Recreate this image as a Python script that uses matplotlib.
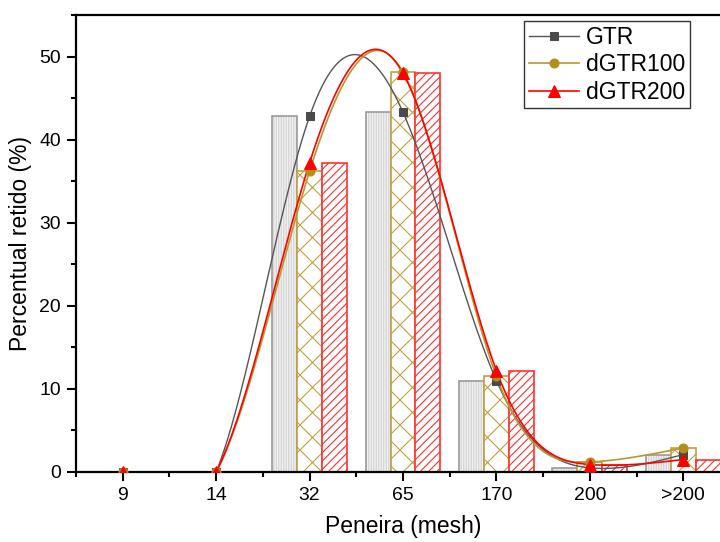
import numpy as np
import matplotlib
matplotlib.use("Agg")
import matplotlib.pyplot as plt
from matplotlib.ticker import MultipleLocator, FixedLocator

DPI = 75
S = 100 / DPI  # sizes below are chosen as if at 100 dpi

plt.rcParams['font.family'] = ['Liberation Sans', 'DejaVu Sans']
plt.rcParams['hatch.linewidth'] = 0.8 * S

categories = ['9', '14', '32', '65', '170', '200', '>200']
gtr = [0.0, 0.0, 42.8, 43.3, 11.0, 0.5, 2.1]
dgtr100 = [0.0, 0.0, 36.2, 48.1, 11.5, 1.2, 2.9]
dgtr200 = [0.0, 0.0, 37.2, 48.0, 12.2, 0.9, 1.5]

series_names = ['GTR', 'dGTR100', 'dGTR200']


def natural_spline(x, y, xs):
    x = np.asarray(x, float)
    y = np.asarray(y, float)
    n = len(x)
    h = np.diff(x)
    A = np.zeros((n, n))
    b = np.zeros(n)
    A[0, 0] = 1
    A[-1, -1] = 1
    for i in range(1, n - 1):
        A[i, i - 1] = h[i - 1]
        A[i, i] = 2 * (h[i - 1] + h[i])
        A[i, i + 1] = h[i]
        b[i] = 6 * ((y[i + 1] - y[i]) / h[i] - (y[i] - y[i - 1]) / h[i - 1])
    M = np.linalg.solve(A, b)
    out = np.empty_like(xs)
    for k, xv in enumerate(xs):
        i = min(max(np.searchsorted(x, xv) - 1, 0), n - 2)
        t1 = x[i + 1] - xv
        t0 = xv - x[i]
        out[k] = (M[i] * t1 ** 3 / (6 * h[i]) + M[i + 1] * t0 ** 3 / (6 * h[i])
                  + (y[i] / h[i] - M[i] * h[i] / 6) * t1
                  + (y[i + 1] / h[i] - M[i + 1] * h[i] / 6) * t0)
    return out


fig = plt.figure(figsize=(720 / DPI, 542 / DPI), dpi=DPI)
ax = fig.add_axes([76 / 720, 70 / 542, 654 / 720, 457 / 542])

x = np.arange(len(categories))
w = 0.267

# GTR bars: light fill with fine vertical hatch, darker outline
ax.bar(x - w, gtr, w, facecolor='#f3f3f3', edgecolor='#d0d0d0', hatch='|||||',
       linewidth=0, zorder=2)
ax.bar(x - w, gtr, w, facecolor='none', edgecolor='#9a9a9a', linewidth=1.2 * S, zorder=2)
# dGTR100 bars: gold crosshatch
ax.bar(x, dgtr100, w, facecolor='white', edgecolor='#c0a040', hatch='x',
       linewidth=1.2 * S, zorder=2)
# dGTR200 bars: red diagonal hatch
ax.bar(x + w, dgtr200, w, facecolor='white', edgecolor='#ff3030', hatch='///',
       linewidth=1.2 * S, zorder=2)

xs = np.linspace(0, len(categories) - 1, 600)
line_styles = [
    (gtr, '#555555', '#4a4a4a', 's', 6.0, 1.0),
    (dgtr100, '#b8982e', '#b38f1a', 'o', 6.5, 1.2),
    (dgtr200, '#ff0000', '#ff0000', '^', 8.0, 1.2),
]
for (vals, lc, mc, mk, ms, lw), name in zip(line_styles, series_names):
    ax.plot(xs, natural_spline(x, vals, xs), color=lc, lw=lw * S, zorder=3)
for (vals, lc, mc, mk, ms, lw), name in zip(line_styles, series_names):
    ax.plot(x, vals, linestyle='none', marker=mk, color=mc, markersize=ms * S, zorder=4)

handles = []
for (vals, lc, mc, mk, ms, lw), name in zip(line_styles, series_names):
    h, = ax.plot([], [], color=lc, lw=lw * S, marker=mk, markerfacecolor=mc,
                 markeredgecolor=mc, markersize=ms * S, label=name)
    handles.append(h)
leg = ax.legend(handles=handles, loc='upper right', bbox_to_anchor=(0.939, 0.987),
                borderaxespad=0, fontsize=16.5 * S, frameon=True, fancybox=False,
                edgecolor='black', handlelength=2.2, handletextpad=0.3,
                labelspacing=0.2, borderpad=0.2)
leg.get_frame().set_linewidth(1.0 * S)

ax.set_xlim(-0.5, len(categories) - 0.5)
ax.set_ylim(0, 55)
ax.set_xticks(x)
ax.set_xticklabels(categories)
ax.xaxis.set_minor_locator(FixedLocator(np.arange(-0.5, len(categories), 1.0)))
ax.yaxis.set_major_locator(MultipleLocator(10))
ax.yaxis.set_minor_locator(MultipleLocator(5))
ax.tick_params(axis='both', which='major', direction='out', length=6.5 * S, width=1.5 * S,
               labelsize=14 * S, pad=4.5 * S)
ax.tick_params(axis='both', which='minor', direction='out', length=3.5 * S, width=1.5 * S)
for s in ['left', 'bottom', 'top']:
    ax.spines[s].set_linewidth(1.6 * S)
ax.spines['right'].set_visible(False)

ax.set_xlabel('Peneira (mesh)', fontsize=16.5 * S, labelpad=8 * S)
ax.set_ylabel('Percentual retido (%)', fontsize=16.5 * S, labelpad=5 * S)

fig.savefig('out.png', dpi=DPI)
